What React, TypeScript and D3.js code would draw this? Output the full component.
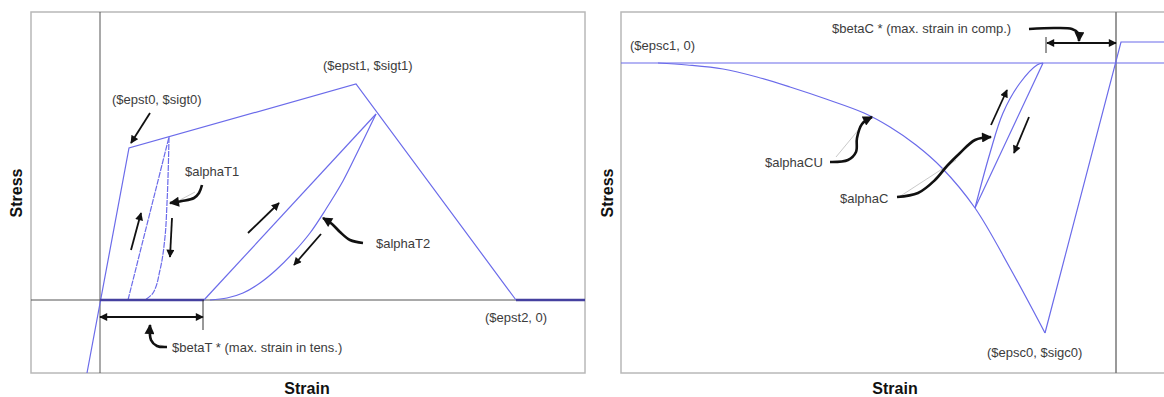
import React from 'react'
import * as d3 from 'd3'

type Pt = [number, number]

// ---- Tension side (left chart), strain / stress in chart units ----
const tensionEnvelope: Pt[] = [[-0.13, -0.73], [0.29, 1.52], [2.56, 2.16], [4.16, 0]]
const tensionResidual: Pt[] = [[0, 0], [1.04, 0]]
const tensionTail: Pt[] = [[4.16, 0], [4.85, 0]]
const loopT1Reload: Pt[] = [[0.28, 0], [0.69, 1.63]]
const loopT1Unload: Pt[] = [[0.69, 1.63], [0.67, 0.97], [0.65, 0.63], [0.6, 0.3], [0.53, 0.07], [0.45, 0]]
const loopT2Reload: Pt[] = [[1.04, 0], [2.76, 1.86]]
const loopT2Unload: Pt[] = [
  [1.1, 0], [1.27, 0.02], [1.43, 0.07], [1.6, 0.17], [1.76, 0.3], [1.93, 0.47],
  [2.1, 0.67], [2.26, 0.91], [2.43, 1.19], [2.59, 1.51], [2.76, 1.86]
]

// ---- Compression side (right chart) ----
const compEnvelope: Pt[] = [
  [-4.58, 0], [-4.29, -0.02], [-3.93, -0.06], [-3.59, -0.14], [-3.26, -0.24], [-2.9, -0.36],
  [-2.52, -0.5], [-2.26, -0.64], [-2.0, -0.82], [-1.74, -1.05], [-1.41, -1.45], [-1.06, -2.05], [-0.71, -2.7]
]
const compTension: Pt[] = [[-0.71, -2.7], [0.05, 0.21], [0.54, 0.21]]
const loopCUnload: Pt[] = [[-1.41, -1.45], [-0.73, 0]]
const loopCReload: Pt[] = [[-1.41, -1.45], [-1.26, -0.9], [-1.13, -0.5], [-0.96, -0.2], [-0.79, -0.02], [-0.73, 0]]

// ---- annotations ----
const tensionLabels: { text: string; at: Pt }[] = [
  { text: '($epst0, $sigt0)', at: [0.12, 1.96] },
  { text: '($epst1, $sigt1)', at: [2.23, 2.3] },
  { text: '$alphaT1', at: [0.85, 1.24] },
  { text: '$alphaT2', at: [2.76, 0.52] },
  { text: '$betaT * (max. strain in tens.)', at: [0.72, -0.52] },
  { text: '($epst2, 0)', at: [3.85, -0.22] }
]
const tensionArrows: Pt[][] = [
  [[0.5, 1.87], [0.31, 1.57]],
  [[0.31, 0.5], [0.41, 0.87]],
  [[0.72, 0.82], [0.7, 0.43]],
  [[1.48, 0.67], [1.79, 0.97]],
  [[2.21, 0.66], [1.94, 0.35]]
]
const tensionCurly: Pt[][] = [
  [[1.02, 1.15], [0.99, 1.07], [0.94, 1.02], [0.82, 0.99], [0.7, 0.97]],
  [[2.63, 0.57], [2.5, 0.6], [2.4, 0.68], [2.32, 0.76], [2.23, 0.82]],
  [[0.67, -0.47], [0.57, -0.46], [0.51, -0.4], [0.5, -0.25]]
]
const tensionLeaders: Pt[][] = [
  [[0.95, 1.08], [0.8, 1.0]],
  [[0.6, -0.45], [0.67, -0.47]]
]
const betaTSpan: Pt[] = [[0, -0.17], [1.03, -0.17]]
const betaTTick: Pt[] = [[1.03, 0], [1.03, -0.3]]

const compLabels: { text: string; at: Pt }[] = [
  { text: '($epsc1, 0)', at: [-4.86, 0.13] },
  { text: '$betaC * (max. strain in comp.)', at: [-2.84, 0.3] },
  { text: '$alphaCU', at: [-3.51, -1.04] },
  { text: '$alphaC', at: [-2.76, -1.4] },
  { text: '($epsc0, $sigc0)', at: [-1.29, -2.94] }
]
const compArrows: Pt[][] = [
  [[-1.25, -0.62], [-1.09, -0.27]],
  [[-0.87, -0.54], [-1.02, -0.9]]
]
const compCurly: Pt[][] = [
  [[-0.87, 0.34], [-0.61, 0.35], [-0.44, 0.34], [-0.38, 0.3], [-0.37, 0.22]],
  [[-2.86, -0.99], [-2.68, -0.97], [-2.6, -0.89], [-2.59, -0.75], [-2.54, -0.61], [-2.44, -0.54]],
  [[-2.19, -1.34], [-1.98, -1.3], [-1.81, -1.17], [-1.69, -1.03], [-1.56, -0.9], [-1.41, -0.77], [-1.25, -0.74]]
]
const compLeaders: Pt[][] = [
  [[-2.8, -0.94], [-2.56, -0.65]],
  [[-2.17, -1.34], [-1.6, -0.97]]
]
const betaCSpan: Pt[] = [[-0.69, 0.2], [0, 0.2]]
const betaCTick: Pt[] = [[-0.7, 0.26], [-0.7, 0.1]]

const BLUE = '#6b6bea'
const DARKBLUE = '#45409f'
const TEXT = '#3c3c3c'
const FONT = '"Liberation Sans", Arial, sans-serif'

export default function App() {
  // left chart scales
  const xL = d3.scaleLinear().domain([-0.69, 4.85]).range([31, 585])
  const yL = d3.scaleLinear().domain([-0.73, 2.88]).range([373, 12])
  // right chart scales (frame runs past the picture edge)
  const xR = d3.scaleLinear().domain([-4.95, 0.54]).range([621, 1170])
  const yR = d3.scaleLinear().domain([-3.1, 0.51]).range([373, 12])

  const lineL = d3.line<Pt>().x(d => xL(d[0])).y(d => yL(d[1]))
  const lineR = d3.line<Pt>().x(d => xR(d[0])).y(d => yR(d[1]))
  const smoothL = d3.line<Pt>().x(d => xL(d[0])).y(d => yL(d[1])).curve(d3.curveMonotoneY)
  const roundL = d3.line<Pt>().x(d => xL(d[0])).y(d => yL(d[1])).curve(d3.curveCatmullRom)
  const smoothR = d3.line<Pt>().x(d => xR(d[0])).y(d => yR(d[1])).curve(d3.curveCatmullRom)
  const curlyL = d3.line<Pt>().x(d => xL(d[0])).y(d => yL(d[1])).curve(d3.curveCatmullRom)
  const curlyR = d3.line<Pt>().x(d => xR(d[0])).y(d => yR(d[1])).curve(d3.curveCatmullRom)

  const textStyle = { fontFamily: FONT, fontSize: 13, fill: TEXT }
  const titleStyle = { fontFamily: FONT, fontSize: 16, fontWeight: 'bold' as const, fill: '#111' }

  return (
    <svg width={1164} height={397} style={{ position: 'absolute', left: 0, top: 0, background: '#fff' }}>
      <defs>
        <marker id="head" viewBox="0 0 10 10" refX="9" refY="5" markerWidth="9" markerHeight="8"
          markerUnits="userSpaceOnUse" orient="auto-start-reverse">
          <path d="M0,0 L10,5 L0,10 z" fill="#111" />
        </marker>
        <marker id="headBig" viewBox="0 0 10 10" refX="9" refY="5" markerWidth="11" markerHeight="10"
          markerUnits="userSpaceOnUse" orient="auto-start-reverse">
          <path d="M0,0 L10,5 L0,10 z" fill="#111" />
        </marker>
      </defs>

      {/* ---------- left chart: tension ---------- */}
      <g>
        <rect x={xL.range()[0]} y={yL.range()[1]} width={xL.range()[1] - xL.range()[0]}
          height={yL.range()[0] - yL.range()[1]} fill="none" stroke="#b8b8b8" strokeWidth={1.5} />
        <line x1={xL(0)} x2={xL(0)} y1={yL.range()[1]} y2={yL.range()[0]} stroke="#555" strokeWidth={1} />
        <line x1={xL.range()[0]} x2={xL.range()[1]} y1={yL(0)} y2={yL(0)} stroke="#555" strokeWidth={1} />

        <path d={lineL(tensionEnvelope)!} fill="none" stroke={BLUE} strokeWidth={1.2} />
        <path d={lineL(loopT1Reload)!} fill="none" stroke={BLUE} strokeWidth={1.2} strokeDasharray="6,1" />
        <path d={smoothL(loopT1Unload)!} fill="none" stroke={BLUE} strokeWidth={1.2} strokeDasharray="6,1" />
        <path d={lineL(loopT2Reload)!} fill="none" stroke={BLUE} strokeWidth={1.2} />
        <path d={roundL(loopT2Unload)!} fill="none" stroke={BLUE} strokeWidth={1.2} />
        <path d={lineL(tensionResidual)!} fill="none" stroke={DARKBLUE} strokeWidth={2.5} />
        <path d={lineL(tensionTail)!} fill="none" stroke={DARKBLUE} strokeWidth={2.5} />

        {tensionLeaders.map((a, i) => (
          <path key={i} d={lineL(a)!} stroke="#bbb" strokeWidth={0.8} />
        ))}
        {tensionArrows.map((a, i) => (
          <path key={i} d={lineL(a)!} stroke="#111" strokeWidth={1.8} markerEnd="url(#head)" />
        ))}
        {tensionCurly.map((a, i) => (
          <path key={i} d={curlyL(a)!} fill="none" stroke="#111" strokeWidth={2.6} markerEnd="url(#headBig)" />
        ))}
        <path d={lineL(betaTSpan)!} stroke="#111" strokeWidth={2} markerStart="url(#head)" markerEnd="url(#head)" />
        <path d={lineL(betaTTick)!} stroke="#333" strokeWidth={1} />

        {tensionLabels.map(l => (
          <text key={l.text} x={xL(l.at[0])} y={yL(l.at[1])} style={textStyle}>{l.text}</text>
        ))}

        <text x={307} y={394} textAnchor="middle" style={titleStyle}>Strain</text>
        <text transform="translate(22, 193) rotate(-90)" textAnchor="middle" style={titleStyle}>Stress</text>
      </g>

      {/* ---------- right chart: compression ---------- */}
      <g>
        <rect x={xR.range()[0]} y={yR.range()[1]} width={xR.range()[1] - xR.range()[0]}
          height={yR.range()[0] - yR.range()[1]} fill="none" stroke="#b8b8b8" strokeWidth={1.5} />
        <line x1={xR(0)} x2={xR(0)} y1={yR.range()[1]} y2={yR.range()[0]} stroke="#777" strokeWidth={1.5} />
        <line x1={xR.range()[0]} x2={xR.range()[1]} y1={yR(0)} y2={yR(0)} stroke={BLUE} strokeWidth={1.2} />

        <path d={smoothR(compEnvelope)!} fill="none" stroke={BLUE} strokeWidth={1.2} />
        <path d={lineR(compTension)!} fill="none" stroke={BLUE} strokeWidth={1.2} />
        <path d={lineR(loopCUnload)!} fill="none" stroke={BLUE} strokeWidth={1.2} />
        <path d={smoothR(loopCReload)!} fill="none" stroke={BLUE} strokeWidth={1.2} />

        {compLeaders.map((a, i) => (
          <path key={i} d={lineR(a)!} stroke="#bbb" strokeWidth={0.8} />
        ))}
        {compArrows.map((a, i) => (
          <path key={i} d={lineR(a)!} stroke="#111" strokeWidth={1.8} markerEnd="url(#head)" />
        ))}
        {compCurly.map((a, i) => (
          <path key={i} d={curlyR(a)!} fill="none" stroke="#111" strokeWidth={2.6} markerEnd="url(#headBig)" />
        ))}
        <path d={lineR(betaCSpan)!} stroke="#111" strokeWidth={2} markerStart="url(#head)" markerEnd="url(#head)" />
        <path d={lineR(betaCTick)!} stroke="#333" strokeWidth={1} />

        {compLabels.map(l => (
          <text key={l.text} x={xR(l.at[0])} y={yR(l.at[1])} style={textStyle}>{l.text}</text>
        ))}

        <text x={895} y={394} textAnchor="middle" style={titleStyle}>Strain</text>
        <text transform="translate(613, 193) rotate(-90)" textAnchor="middle" style={titleStyle}>Stress</text>
      </g>
    </svg>
  )
}
